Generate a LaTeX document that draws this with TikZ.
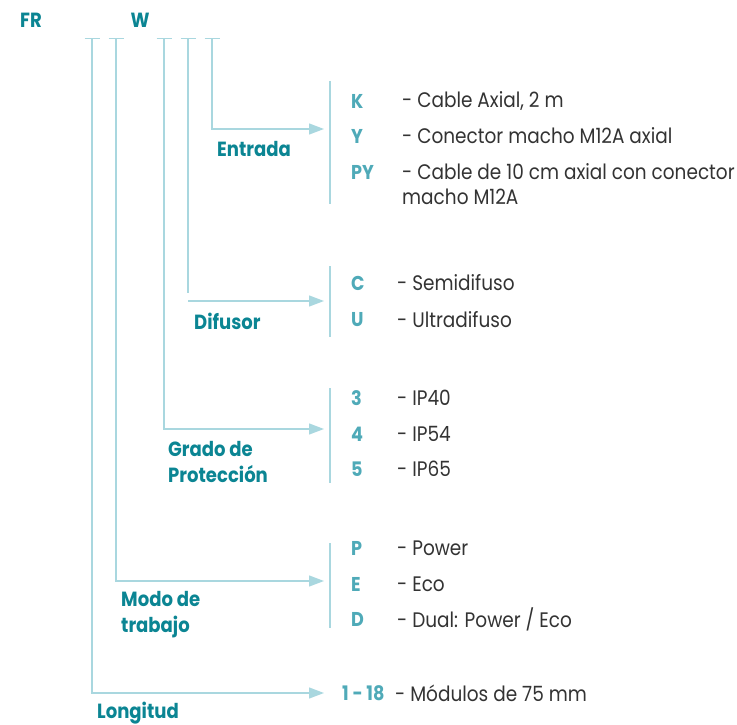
\documentclass[tikz,border=0pt]{standalone}
\usepackage{fontspec}
\setmainfont{Poppins}[FakeStretch=0.88]
\usetikzlibrary{arrows.meta,positioning}
\definecolor{darkteal}{HTML}{0B8593}
\definecolor{lightteal}{HTML}{4FAAB8}
\definecolor{lineblue}{HTML}{A9D7DF}
\definecolor{textgray}{HTML}{333333}
\tikzset{
  field/.style={font=\bfseries\fontsize{20.5}{26}\selectfont, text=darkteal, align=left, anchor=west, inner sep=0pt},
  code/.style={font=\bfseries\fontsize{20}{20}\selectfont, text=lightteal, anchor=west, inner sep=0pt},
  desc/.style={font=\fontsize{21}{25}\selectfont, text=textgray, align=left, anchor=west, inner sep=0pt},
  guide/.style={draw=lineblue, line width=1.3pt},
  pointer/.style={guide, -{Triangle[length=15pt,width=11pt]}},
}

\begin{document}
\begin{tikzpicture}[x=1pt,y=-1pt]
  \useasboundingbox (0,0) rectangle (737,725); %Picture size

  \node[field, anchor=center] (fr) at (31,20) {FR}; %Family code
  \node[field, anchor=center] (w) at (140,20) {W};  %Family code

  \coordinate (slotL) at (92,38.5);  %Longitud slot
  \coordinate (slotM) at (116,38.5); %Modo slot
  \coordinate (slotG) at (164,38.5); %Grado slot
  \coordinate (slotD) at (188,38.5); %Difusor slot
  \coordinate (slotE) at (212,38.5); %Entrada slot
  \draw[guide] ([xshift=-7.5pt]slotL) -- ([xshift=7.5pt]slotL); %Slot tick
  \draw[guide] ([xshift=-7.5pt]slotM) -- ([xshift=7.5pt]slotM); %Slot tick
  \draw[guide] ([xshift=-7.5pt]slotG) -- ([xshift=7.5pt]slotG); %Slot tick
  \draw[guide] ([xshift=-7.5pt]slotD) -- ([xshift=7.5pt]slotD); %Slot tick
  \draw[guide] ([xshift=-7.5pt]slotE) -- ([xshift=7.5pt]slotE); %Slot tick

  %Entrada
  \coordinate (tipE) at (324,129);
  \draw[pointer] (slotE) |- (tipE);
  \node[field] (entrada) at (217,149) {Entrada};
  \draw[guide] (330,81) coordinate (barE) -- (330,204); %Bracket
  \node[code] (k) at (351,101) {K};
  \node[code] (y) at (351,136) {Y};
  \node[code] (py) at (351,172) {PY};
  \node[desc] (kd) at (402,101) {- Cable Axial, 2 m};
  \node[desc] (yd) at (402,136) {- Conector macho M12A axial};
  \node[desc] (pyd) at (402,184.5) {- Cable de 10 cm axial con conector\\macho M12A};

  %Difusor
  \coordinate (endD) at (188,293);
  \coordinate (startD) at (188,301);
  \coordinate (tipD) at (324,301);
  \draw[guide] (slotD) -- (endD);      %Vertical stops short
  \draw[pointer] (startD) -- (tipD);
  \node[field] (difusor) at (194,321) {Difusor};
  \draw[guide] (330,266) coordinate (barD) -- (330,337); %Bracket
  \node[code] (c) at (351,283) {C};
  \node[code] (u) at (351,320) {U};
  \node[desc] (cd) at (397,283) {- Semidifuso};
  \node[desc] (ud) at (397,320) {- Ultradifuso};

  %Grado de proteccion
  \coordinate (tipG) at (324,429);
  \draw[pointer] (slotG) |- (tipG);
  \node[field] (grado) at (168,462) {Grado de\\Protección};
  \draw[guide] (330,388) coordinate (barG) -- (330,483); %Bracket
  \node[code] (g3) at (351,398) {3};
  \node[code] (g4) at (351,434) {4};
  \node[code] (g5) at (351,469) {5};
  \node[desc] (g3d) at (397,398) {- IP40};
  \node[desc] (g4d) at (397,434) {- IP54};
  \node[desc] (g5d) at (397,469) {- IP65};

  %Modo de trabajo
  \coordinate (tipM) at (324,581);
  \draw[pointer] (slotM) |- (tipM);
  \node[field] (modo) at (121,615) {Modo de\\trabajo};
  \draw[guide] (330,543) coordinate (barM) -- (330,628); %Bracket
  \node[code] (p) at (351,548) {P};
  \node[code] (e) at (351,584) {E};
  \node[code] (d) at (351,619) {D};
  \node[desc] (pd) at (397,548) {- Power};
  \node[desc] (ed) at (397,584) {- Eco};
  \node[desc] (dd) at (397,619) {- Dual: Power / Eco};

  %Longitud
  \coordinate (tipL) at (324,693);
  \draw[pointer] (slotL) |- (tipL);
  \node[field] (longitud) at (97,713) {Longitud};
  \node[code] (range) at (342,693) {1 - 18};
  \node[desc] (ld) at (395,693) {- Módulos de 75 mm};
\end{tikzpicture}
\end{document}
